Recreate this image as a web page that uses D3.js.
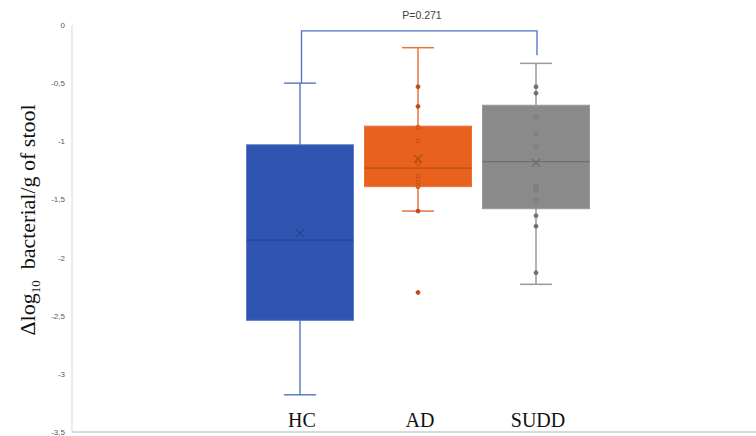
<!DOCTYPE html>
<html>
<head>
<meta charset="utf-8">
<script src="https://cdn.jsdelivr.net/npm/d3@7"></script>
<style>
  body { margin: 0; background: #fff; }
</style>
</head>
<body>
<div id="chart"></div>
<script>
var categories = ["HC", "AD", "SUDD"];
var colors = ["#2F55B0", "#E8621E", "#8A8A8A"];
var lineColors = ["#5B7DC6", "#E8743A", "#9A9A9A"];
var darkColors = ["#24448F", "#B84C14", "#6E6E6E"];

// box stats
var whiskerLow = [-3.18, -1.60, -2.23];
var q1 = [-2.54, -1.39, -1.58];
var median = [-1.85, -1.23, -1.175];
var q3 = [-1.03, -0.87, -0.69];
var whiskerHigh = [-0.50, -0.195, -0.33];
var means = [-1.79, -1.15, -1.185];

// individual points
var adPoints = [-0.53, -0.70, -0.88, -0.995, -1.17, -1.19, -1.30, -1.35, -1.39, -1.60, -2.30];
var suddPoints = [-0.53, -0.587, -0.79, -0.935, -1.046, -1.39, -1.42, -1.51, -1.64, -1.73, -2.13];
var points = [[], adPoints, suddPoints];

var yTicks = [0, -0.5, -1, -1.5, -2, -2.5, -3, -3.5];
var pValue = "P=0.271";

var width = 756, height = 436;
var svg = d3.select("#chart").append("svg")
            .attr("width", width).attr("height", height);

var y = d3.scaleLinear().domain([0, -3.5]).range([25, 432]);
var x = d3.scalePoint().domain(categories).range([300, 536]);
var boxW = 107, capW = 32;

// axes
svg.append("line")
   .attr("x1", 72).attr("x2", 72)
   .attr("y1", y(0)).attr("y2", y(-3.5))
   .attr("stroke", "#d9d9d9").attr("stroke-width", 1);
svg.append("line")
   .attr("x1", 72).attr("x2", 756)
   .attr("y1", y(-3.5)).attr("y2", y(-3.5))
   .attr("stroke", "#d9d9d9").attr("stroke-width", 2);

svg.selectAll(".ytick").data(yTicks).enter().append("text")
   .attr("class", "ytick")
   .attr("x", 65)
   .attr("y", d => y(d) + 3)
   .attr("text-anchor", "end")
   .attr("font-family", "Liberation Sans, Arial, sans-serif")
   .attr("font-size", 8)
   .attr("fill", "#595959")
   .text(d => String(d).replace(".", ","));

// y label
var ylab = svg.append("text")
   .attr("transform", "translate(35,220) rotate(-90)")
   .attr("text-anchor", "middle")
   .attr("font-family", "Liberation Serif, Times New Roman, serif")
   .attr("font-size", 22)
   .attr("fill", "#111");
ylab.append("tspan").text("\u0394log");
ylab.append("tspan").attr("font-size", 13).attr("dy", 5).text("10");
ylab.append("tspan").attr("dy", -5).text("\u00a0 bacterial/g of stool");

// boxes
var g = svg.selectAll(".box").data(categories).enter().append("g")
   .attr("class", "box");

g.append("line") // whisker
   .attr("x1", d => x(d)).attr("x2", d => x(d))
   .attr("y1", (d, i) => y(whiskerLow[i])).attr("y2", (d, i) => y(whiskerHigh[i]))
   .attr("stroke", (d, i) => lineColors[i]).attr("stroke-width", 1.5);
g.append("line")
   .attr("x1", d => x(d) - capW / 2).attr("x2", d => x(d) + capW / 2)
   .attr("y1", (d, i) => y(whiskerHigh[i])).attr("y2", (d, i) => y(whiskerHigh[i]))
   .attr("stroke", (d, i) => lineColors[i]).attr("stroke-width", 1.5);
g.append("line")
   .attr("x1", d => x(d) - capW / 2).attr("x2", d => x(d) + capW / 2)
   .attr("y1", (d, i) => y(whiskerLow[i])).attr("y2", (d, i) => y(whiskerLow[i]))
   .attr("stroke", (d, i) => lineColors[i]).attr("stroke-width", 1.5);

g.append("rect")
   .attr("x", d => x(d) - boxW / 2)
   .attr("width", boxW)
   .attr("y", (d, i) => y(q3[i]))
   .attr("height", (d, i) => y(q1[i]) - y(q3[i]))
   .attr("fill", (d, i) => colors[i])
   .attr("stroke", (d, i) => lineColors[i]).attr("stroke-width", 1);

g.append("line") // median
   .attr("x1", d => x(d) - boxW / 2).attr("x2", d => x(d) + boxW / 2)
   .attr("y1", (d, i) => y(median[i])).attr("y2", (d, i) => y(median[i]))
   .attr("stroke", (d, i) => darkColors[i]).attr("stroke-width", 1.2);

// points
g.each(function(d, i) {
  d3.select(this).selectAll("circle").data(points[i]).enter().append("circle")
    .attr("cx", x(d))
    .attr("cy", v => y(v))
    .attr("r", 2)
    .attr("fill", v => (v > q3[i] || v < q1[i]) ? darkColors[i] : colors[i])
    .attr("stroke", darkColors[i])
    .attr("stroke-width", 0.8);
});

// means
g.append("path")
   .attr("d", (d, i) => {
     var cx = x(d), cy = y(means[i]), s = 4;
     return "M" + (cx - s) + "," + (cy - s) + "L" + (cx + s) + "," + (cy + s) +
            "M" + (cx - s) + "," + (cy + s) + "L" + (cx + s) + "," + (cy - s);
   })
   .attr("stroke", (d, i) => darkColors[i]).attr("stroke-width", 1.3).attr("fill", "none");

// category labels
svg.selectAll(".cat").data(categories).enter().append("text")
   .attr("class", "cat")
   .attr("x", d => x(d) + 2)
   .attr("y", 427)
   .attr("text-anchor", "middle")
   .attr("font-family", "Liberation Serif, Times New Roman, serif")
   .attr("font-size", 20)
   .attr("fill", "#111")
   .text(d => d);

// significance bracket
var bx1 = x("HC") + 1.5, bx2 = x("SUDD") + 1;
svg.append("path")
   .attr("d", "M" + bx1 + "," + y(whiskerHigh[0]) + "V" + y(-0.05) + "H" + bx2 + "V" + y(-0.26))
   .attr("fill", "none").attr("stroke", "#4A72C4").attr("stroke-width", 1.3);
svg.append("text")
   .attr("x", (x("HC") + x("SUDD")) / 2 + 4)
   .attr("y", 19)
   .attr("text-anchor", "middle")
   .attr("font-family", "Liberation Sans, Arial, sans-serif")
   .attr("font-size", 10.5)
   .attr("fill", "#404040")
   .text(pValue);
</script>
</body>
</html>
